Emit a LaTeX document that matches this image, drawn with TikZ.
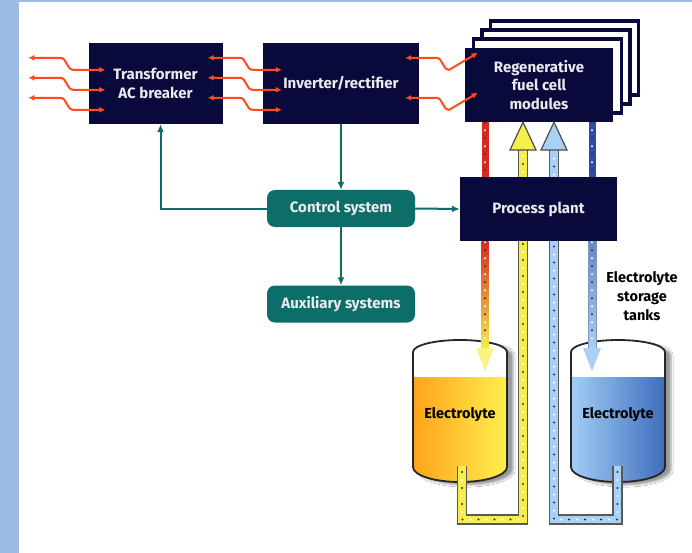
\documentclass[tikz,border=0pt]{standalone}
\usepackage{fontspec}
\setmainfont{Fira Sans}
\usetikzlibrary{calc,arrows.meta,shadows.blur}

\definecolor{navy}{HTML}{09093B}
\definecolor{ctrlteal}{HTML}{0D6E69}
\definecolor{wirered}{HTML}{FF4B1F}
\definecolor{frameblue}{HTML}{9DBBE3}
\definecolor{pipered}{HTML}{D92A1E}
\definecolor{pipeblue}{HTML}{2C4DA0}
\definecolor{pipeyellow}{HTML}{F6EE4C}
\definecolor{pipesky}{HTML}{A9D0F5}
\definecolor{tankorange}{HTML}{FFA31A}
\definecolor{tankyellow}{HTML}{FFF04E}
\definecolor{tanksky}{HTML}{A3CFF6}
\definecolor{tankblue}{HTML}{3D6CBC}

\pgfdeclarelayer{back}
\pgfdeclarelayer{pipes}
\pgfsetlayers{back,pipes,main}

% storage tank outline, #1 = centre x, #2 = path options
\newcommand\tankpath[2]{%
  \path[#2] (#1-47,352) arc[start angle=180,end angle=360,x radius=47,y radius=12]
    -- (#1+47,467) arc[start angle=0,end angle=180,x radius=47,y radius=15] -- cycle;}

% tank with shadow and liquid, #2/#3 = liquid colours left/right
\newcommand\electank[3]{%
  \tankpath{#1}{fill=white,blur shadow={shadow xshift=6pt,shadow yshift=-3pt}}
  \begin{scope}
    \tankpath{#1}{clip}
    \shade[left color=#2,right color=#3] (#1-48,377) rectangle (#1+48,490);
  \end{scope}
  \tankpath{#1}{draw=black!85,line width=1.8pt}}

\begin{document}
\begin{tikzpicture}[x=1pt,y=-1pt,
    box/.style={fill=navy,text=white!92!navy,align=center,inner sep=0pt,
      font=\bfseries\fontsize{15}{18.5}\selectfont},
    ctrl/.style={box,fill=ctrlteal,rounded corners=8pt,
      minimum width=148pt,minimum height=37pt},
    card/.style={draw=navy,fill=white,line width=3.5pt},
    wire/.style={draw=wirered,line width=2pt,
      {Latex[length=6pt,width=6pt]}-{Latex[length=6pt,width=6pt]}},
    link/.style={draw=ctrlteal,line width=2pt,-{Latex[length=8pt,width=7pt]}},
    tube/.style={draw=black!65,line width=1.3pt,double=#1,double distance=7.5pt},
    beads/.style={postaction={draw=black!80,line width=2.2pt,line cap=round,
        dash pattern=on 0pt off 16pt},
      postaction={draw=white,line width=2.2pt,line cap=round,
        dash pattern=on 0pt off 16pt,dash phase=8pt}},
    darktext/.style={font=\bfseries\fontsize{14.5}{19}\selectfont,align=center}]

  \useasboundingbox (0,0) rectangle (692,553);
  \begin{pgfonlayer}{back}
    \fill[white] (0,0) rectangle (692,553);
    \fill[frameblue] (0,0) rectangle (19,553);
    \fill[frameblue] (0,0) rectangle (692,2.5);
    \electank{460}{tankorange}{tankyellow}
    \electank{618}{tanksky}{tankblue}
  \end{pgfonlayer}

  % blocks
  \node[box,minimum width=134pt,minimum height=81pt] (trafo) at (155.5,83.5) {Transformer\\AC breaker};
  \node[box,minimum width=156pt,minimum height=81pt] (inv) at (341,83.5) {Inverter/rectifier};
  \foreach \k in {3,2,1}
    \draw[card] (465+8.5*\k,48-9*\k) rectangle ++(148,74);
  \node[box,minimum width=148pt,minimum height=74pt] (fc) at (539,85) {Regenerative\\fuel cell\\modules};
  \node[ctrl] (ctrl) at (341,208.5) {Control system};
  \node[ctrl] (aux) at (341,304) {Auxiliary systems};
  \node[box,minimum width=157pt,minimum height=63pt] (plant) at (538.5,209) {Process plant};
  \node[darktext] (elA) at (460,415) {Electrolyte};
  \node[darktext] (elB) at (618,415) {Electrolyte};
  \node[darktext] (store) at (642,296) {Electrolyte\\storage\\tanks};

  % control lines
  \draw[link] (inv.south) -- (ctrl.north);
  \draw[link] (ctrl.south) -- (aux.north);
  \draw[link] (ctrl.east) -- (plant.west);
  \draw[link] (ctrl.west) -| ([xshift=5pt]trafo.south);

  % power lines
  \foreach \d in {15,35,55} {
    \draw[wire] ([xshift=-60pt,yshift=-\d pt]trafo.north west) -- ++(32,0)
      to[out=0,in=180] ++(13,12) -- ([xshift=17pt,yshift=-\d pt-12pt]trafo.north west);
    \draw[wire] ([xshift=-15pt,yshift=-\d pt]trafo.north east) -- ++(32,0)
      to[out=0,in=180] ++(13,12) -- ([xshift=19pt,yshift=-\d pt-12pt]inv.north west);
  }
  \foreach \d in {15,55}
    \draw[wire] ([xshift=-14pt,yshift=-\d pt]inv.north east) -- ++(31,0)
      to[out=0,in=180] ++(13,12) -- ([xshift=13pt,yshift=-\d pt+10pt]fc.north west);

  % electrolyte circuits
  \coordinate (redx) at (485,0);
  \coordinate (yelx) at (523,0);
  \coordinate (skyx) at (554,0);
  \coordinate (bluex) at (592,0);
  \begin{pgfonlayer}{pipes}
    \draw[pipered,line width=7pt] (redx |- fc.south) -- (redx |- plant.north);
    \shade[top color=pipered,middle color=orange,bottom color=pipeyellow]
      (481.5,241) rectangle (488.5,350);
    \fill[pipeyellow!70!white] (476,348) -- (485,371) -- (494,348) -- cycle;
    \path[beads] (redx |- fc.south) -- (485,346);

    \draw[pipeblue,line width=7pt] (bluex |- fc.south) -- (bluex |- plant.north);
    \shade[top color=pipeblue!55!pipesky,bottom color=pipesky] (588,241) rectangle (596,350);
    \draw[pipeblue!60,line width=.8pt] (588,241) -- (588,350) (596,241) -- (596,350);
    \fill[pipesky] (583,348) -- (592,371) -- (601,348) -- cycle;
    \path[beads] (bluex |- fc.south) -- (592,346);

    \draw[tube=pipeyellow] (462,466) |- (523,519.5) -- (523,150);
    \path[beads] (462,472) |- (523,519.5) -- (523,152);
    \filldraw[fill=pipeyellow,draw=black!70,line width=1.2pt]
      (510,150) -- (yelx |- fc.south) -- (536,150) -- cycle;

    \draw[tube=pipesky] (617.5,466) |- (554,519.5) -- (554,150);
    \path[beads] (617.5,472) |- (554,519.5) -- (554,152);
    \filldraw[fill=pipesky,draw=black!70,line width=1.2pt]
      (541,150) -- (skyx |- fc.south) -- (567,150) -- cycle;
  \end{pgfonlayer}

\end{tikzpicture}
\end{document}
